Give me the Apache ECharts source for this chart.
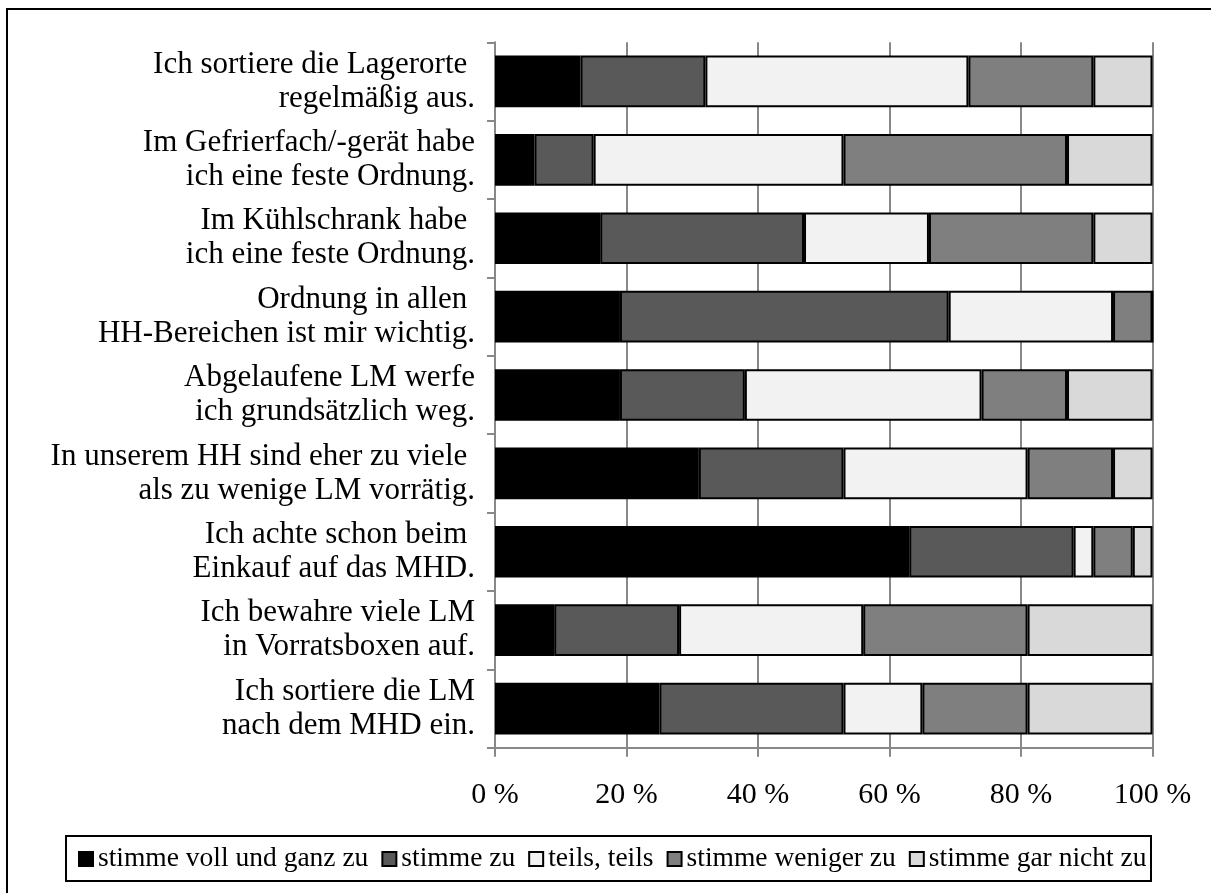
<!DOCTYPE html>
<html>
<head>
<meta charset="utf-8">
<script src="https://cdn.jsdelivr.net/npm/echarts@6/dist/echarts.min.js"></script>
<style>
html,body{margin:0;padding:0;background:#fff;}
#chart{width:1211px;height:893px;}
</style>
</head>
<body>
<div id="chart"></div>
<script>
const categories = [
  "Ich sortiere die Lagerorte \nregelmäßig aus.",
  "Im Gefrierfach/-gerät habe\nich eine feste Ordnung.",
  "Im Kühlschrank habe \nich eine feste Ordnung.",
  "Ordnung in allen \nHH-Bereichen ist mir wichtig.",
  "Abgelaufene LM werfe\nich grundsätzlich weg.",
  "In unserem HH sind eher zu viele \nals zu wenige LM vorrätig.",
  "Ich achte schon beim \nEinkauf auf das MHD.",
  "Ich bewahre viele LM\nin Vorratsboxen auf.",
  "Ich sortiere die LM\nnach dem MHD ein."
];
const seriesNames = ["stimme voll und ganz zu", "stimme zu", "teils, teils", "stimme weniger zu", "stimme gar nicht zu"];
const vollUndGanz = [13, 6, 16, 19, 19, 31, 63, 9, 25];
const stimmeZu    = [19, 9, 31, 50, 19, 22, 25, 19, 28];
const teilsTeils  = [40, 38, 19, 25, 36, 28, 3, 28, 12];
const weniger     = [19, 34, 25, 6, 13, 13, 6, 25, 16];
const garNicht    = [9, 13, 9, 0, 13, 6, 3, 19, 19];
const xTicks = [0, 20, 40, 60, 80, 100];

const colors = ["#000000", "#595959", "#F2F2F2", "#7F7F7F", "#D9D9D9"];
const dataSets = [vollUndGanz, stimmeZu, teilsTeils, weniger, garNicht];
const FONT = "'Liberation Serif', 'Times New Roman', serif";

const chart = echarts.init(document.getElementById('chart'), null, {renderer: 'canvas'});
chart.setOption({
  backgroundColor: '#ffffff',
  animation: false,
  grid: {left: 495, right: 58.5, top: 42.3, bottom: 145.3, containLabel: false},
  legend: {
    left: 78, top: 845, padding: 0,
    itemGap: 13, itemWidth: 14, itemHeight: 14,
    icon: 'rect',
    textStyle: {fontFamily: FONT, fontSize: 27.5, color: '#000', lineHeight: 28},
    data: seriesNames
  },
  xAxis: {
    type: 'value', min: xTicks[0], max: xTicks[xTicks.length - 1], interval: 20,
    axisLine: {show: true, lineStyle: {color: '#888888', width: 2}},
    axisTick: {show: true, length: 9, lineStyle: {color: '#888888', width: 2}},
    splitLine: {show: true, lineStyle: {color: '#888888', width: 2}},
    axisLabel: {formatter: '{value} %', fontFamily: FONT, fontSize: 30, color: '#000', margin: 32}
  },
  yAxis: {
    type: 'category', inverse: true, data: categories,
    axisLine: {show: true, lineStyle: {color: '#888888', width: 2}},
    axisTick: {show: true, length: 8, lineStyle: {color: '#888888', width: 2}},
    splitLine: {show: false},
    axisLabel: {fontFamily: FONT, fontSize: 31, lineHeight: 34, color: '#000', margin: 20, align: 'right'}
  },
  series: seriesNames.map((name, i) => ({
    name: name,
    type: 'bar',
    stack: 'total',
    barCategoryGap: '34%',
    data: dataSets[i],
    itemStyle: {color: colors[i], borderColor: '#000', borderWidth: 2}
  })),
  graphic: [
    {type: 'rect', silent: true, z: 100,
     shape: {x: 7, y: 9, width: 1220, height: 900},
     style: {fill: 'none', stroke: '#000', lineWidth: 2}},
    {type: 'rect', silent: true, z: 100,
     shape: {x: 66, y: 836, width: 1085, height: 45},
     style: {fill: 'none', stroke: '#000', lineWidth: 2}}
  ]
});
</script>
</body>
</html>
